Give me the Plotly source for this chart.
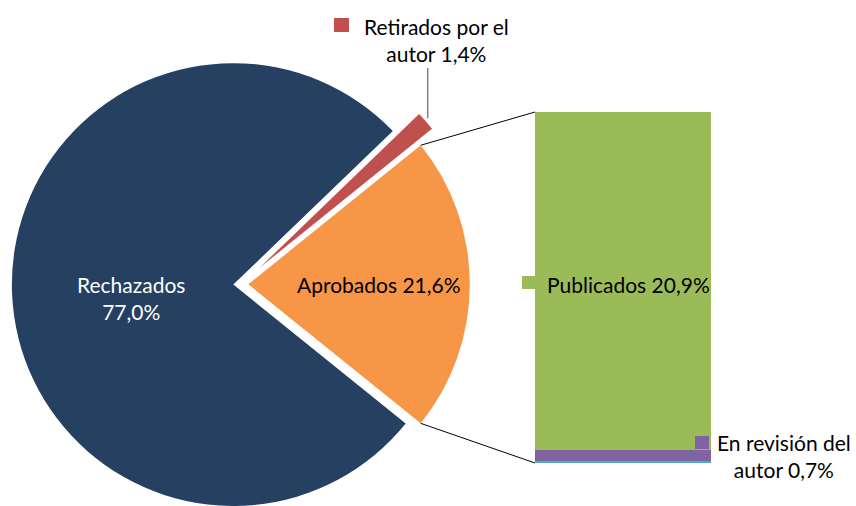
import math
import plotly.graph_objects as go

# ---------------- data ----------------
pie_labels = ["Aprobados", "Retirados por el autor", "Rechazados"]
pie_values = [21.6, 1.4, 77.0]
pie_colors = ["#F79646", "#C0504D", "#254061"]

bar_labels = ["Sin etiqueta", "En revisión del autor", "Publicados"]  # bottom -> top
bar_values = [0.1, 0.7, 20.9]
bar_colors = ["#4BACC6", "#8064A2", "#9BBB59"]

# ---------------- layout geometry (pixels) ----------------
W, H = 856, 506
CX, CY = 240.8, 284.3          # pie centre
R = 221.5                      # pie radius
pull_px = [7.5, 25.0, 7.5]     # explosion of each slice
BAR_X0, BAR_X1 = 535, 711
BAR_Y_TOP, BAR_Y_BOT = 112, 463
FONT = "Lato"
FS = 21


def px(x):
    return x / W


def py(y):
    return 1 - y / H


total = sum(pie_values)
half0 = 360 * pie_values[0] / total / 2
# plotly (counterclockwise): first slice occupies [rotation, rotation+span] clockwise from 12 o'clock
rotation = 90 - half0

# mid angles (counter-clockwise from east)
mids = []
cum = -half0
for v in pie_values:
    span = 360 * v / total
    mids.append(cum + span / 2)
    cum += span

fig = go.Figure()

centres = []
for i, (lab, col) in enumerate(zip(pie_labels, pie_colors)):
    a = math.radians(mids[i])
    cx = CX + pull_px[i] * math.cos(a)
    cy = CY - pull_px[i] * math.sin(a)
    centres.append((cx, cy))
    dom_x = [max(0, px(cx - R)), min(1, px(cx + R))]
    dom_y = [max(0, py(cy + R)), min(1, py(cy - R))]
    cols = [c if j == i else "rgba(0,0,0,0)" for j, c in enumerate(pie_colors)]
    fig.add_trace(go.Pie(
        labels=pie_labels, values=pie_values, sort=False,
        direction="counterclockwise", rotation=rotation,
        marker=dict(colors=cols, line=dict(width=0)),
        textinfo="none", hoverinfo="label+percent",
        domain=dict(x=dom_x, y=dom_y), showlegend=False,
    ))

# stacked bar
for lab, v, col in zip(bar_labels, bar_values, bar_colors):
    fig.add_trace(go.Bar(x=[0], y=[v], name=lab, marker=dict(color=col, line=dict(width=0)),
                         width=1, showlegend=False, xaxis="x", yaxis="y"))

bar_total = sum(bar_values)

# connector lines from the "Aprobados" slice to the bar
ocx, ocy = centres[0]
a = math.radians(half0)
p_top = (ocx + R * math.cos(a), ocy - R * math.sin(a))
p_bot = (ocx + R * math.cos(a), ocy + R * math.sin(a))
shapes = [
    dict(type="line", xref="paper", yref="paper", x0=px(p_top[0]), y0=py(p_top[1]),
         x1=px(BAR_X0), y1=py(BAR_Y_TOP), line=dict(color="black", width=1)),
    dict(type="line", xref="paper", yref="paper", x0=px(p_bot[0]), y0=py(p_bot[1]),
         x1=px(BAR_X0), y1=py(BAR_Y_BOT), line=dict(color="black", width=1)),
]

# leader line for Retirados
rcx, rcy = centres[1]
ar = math.radians(mids[1])
rx, ry = rcx + R * math.cos(ar), rcy - R * math.sin(ar)
shapes.append(dict(type="line", xref="paper", yref="paper", x0=px(rx + 2), y0=py(ry - 3),
                   x1=px(rx + 2), y1=py(68), line=dict(color="#808080", width=1.5)))


def key(x0, y0, x1, y1, col):
    return dict(type="rect", xref="paper", yref="paper", x0=px(x0), y0=py(y1),
                x1=px(x1), y1=py(y0), fillcolor=col, line=dict(width=0), layer="above")


shapes += [
    key(334, 18, 349, 32, pie_colors[1]),
    key(522, 276, 535, 289, bar_colors[2]),
    key(695, 436, 709, 449, bar_colors[1]),
]


def fmt(v):
    return f"{v:.1f}".replace(".", ",") + "%"


def ann(x, y, text, color="black", xanchor="center"):
    return dict(x=px(x), y=py(y), xref="paper", yref="paper", text=text,
                font=dict(color=color, size=FS, family=FONT), showarrow=False,
                xanchor=xanchor, yanchor="middle", align="center")


annotations = [
    ann(131, 298, f"{pie_labels[2]}<br>{fmt(pie_values[2])}", color="white"),
    ann(379, 284, f"{pie_labels[0]} {fmt(pie_values[0])}"),
    ann(436, 40, f"Retirados por el<br>autor {fmt(pie_values[1])}"),
    ann(545, 284, f"{bar_labels[2]} {fmt(bar_values[2])}", xanchor="left"),
    ann(784, 456, f"En revisión del<br>autor {fmt(bar_values[1])}"),
]

fig.update_layout(
    width=W, height=H, margin=dict(l=0, r=0, t=0, b=0),
    paper_bgcolor="white", plot_bgcolor="rgba(0,0,0,0)",
    barmode="stack", bargap=0,
    xaxis=dict(domain=[px(BAR_X0), px(BAR_X1)], range=[-0.5, 0.5], visible=False, fixedrange=True),
    yaxis=dict(domain=[py(BAR_Y_BOT), py(BAR_Y_TOP)], range=[0, bar_total], visible=False, fixedrange=True),
    shapes=shapes, annotations=annotations,
)

fig.write_html("out.html")
